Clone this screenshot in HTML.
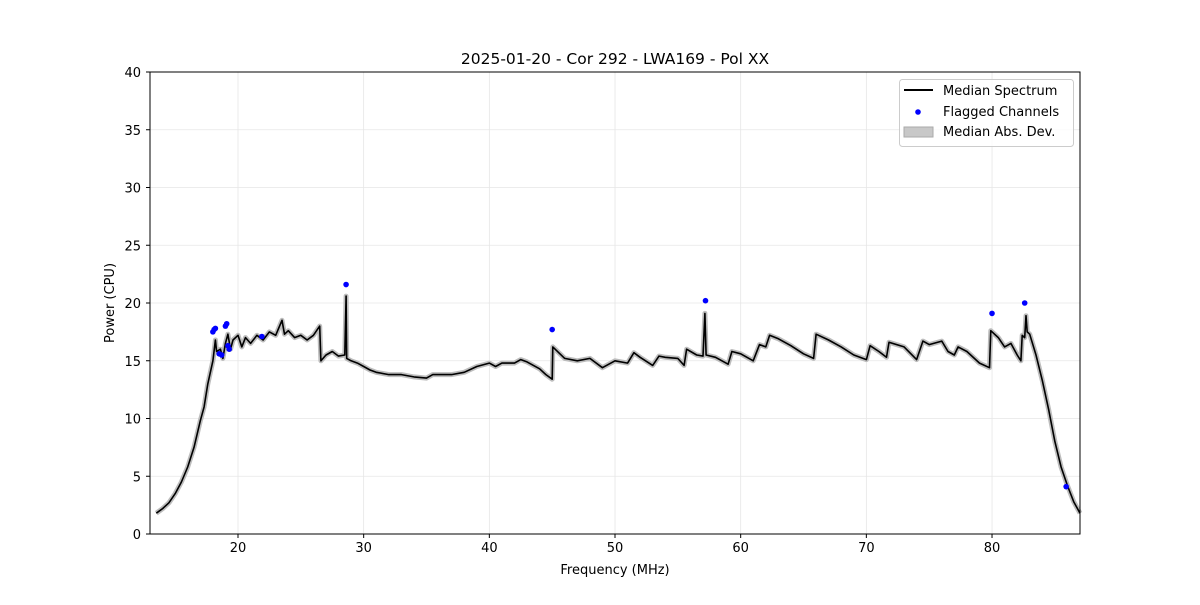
<!DOCTYPE html>
<html><head><meta charset="utf-8"><style>
body{margin:0;background:#fff;}
svg text{font-family:"DejaVu Sans","Liberation Sans",sans-serif;}
</style></head><body>
<svg id="s" width="1200" height="600" xmlns="http://www.w3.org/2000/svg"></svg>
<script>
const X=f=>238+(f-20)*12.567, Y=v=>534-v*11.55;
let h='';
for(let f=20;f<=80;f+=10){h+=`<line x1="${X(f)}" y1="72" x2="${X(f)}" y2="534" stroke="#e6e6e6" stroke-width="0.8"/>`;}
for(let v=5;v<=35;v+=5){h+=`<line x1="150" y1="${Y(v)}" x2="1080" y2="${Y(v)}" stroke="#e6e6e6" stroke-width="0.8"/>`;}
const d=[[13.5,1.8],[14,2.2],[14.5,2.7],[15,3.5],[15.5,4.5],[16,5.8],[16.5,7.5],[17,9.8],[17.3,11],[17.6,13],[18,15],[18.2,16.8],[18.3,15.8],[18.6,16],[18.8,15.2],[19,16.5],[19.2,17.3],[19.4,16],[19.6,16.8],[20,17.2],[20.3,16.2],[20.6,17],[21,16.5],[21.5,17.2],[22,16.8],[22.5,17.5],[23,17.2],[23.5,18.5],[23.7,17.3],[24,17.6],[24.5,17],[25,17.2],[25.5,16.8],[26,17.2],[26.5,18],[26.6,15],[27,15.5],[27.5,15.8],[28,15.4],[28.5,15.5],[28.6,20.6],[28.65,15.2],[29,15],[29.5,14.8],[30,14.5],[30.5,14.2],[31,14],[32,13.8],[33,13.8],[34,13.6],[35,13.5],[35.5,13.8],[36,13.8],[37,13.8],[38,14],[39,14.5],[40,14.8],[40.5,14.5],[41,14.8],[42,14.8],[42.5,15.1],[43,14.9],[44,14.3],[44.5,13.8],[45,13.4],[45.05,16.2],[46,15.2],[47,15],[48,15.2],[49,14.4],[50,15],[51,14.8],[51.5,15.7],[52,15.3],[53,14.6],[53.5,15.4],[54,15.3],[55,15.2],[55.5,14.6],[55.7,16],[56.5,15.5],[57,15.4],[57.15,19.1],[57.25,15.5],[58,15.3],[59,14.7],[59.3,15.8],[60,15.6],[61,15],[61.5,16.4],[62,16.2],[62.3,17.2],[63,16.9],[64,16.3],[65,15.6],[65.8,15.2],[66,17.3],[67,16.8],[68,16.2],[69,15.5],[70,15.1],[70.3,16.3],[71,15.8],[71.6,15.3],[71.8,16.6],[73,16.2],[74,15.1],[74.5,16.7],[75,16.4],[76,16.7],[76.5,15.8],[77,15.5],[77.3,16.2],[78,15.8],[79,14.8],[79.8,14.4],[79.9,17.6],[80.5,17],[81,16.2],[81.5,16.5],[82,15.5],[82.3,15],[82.4,17.2],[82.6,17],[82.7,18.9],[82.8,17.5],[83,17.3],[83.5,15.5],[84,13.3],[84.5,10.8],[85,8],[85.5,5.8],[86,4.2],[86.5,2.8],[87,1.8]];
const pts=d.map(p=>X(p[0]).toFixed(1)+','+Y(p[1]).toFixed(1)).join(' ');
h+=`<polyline points="${pts}" fill="none" stroke="#bdbdbd" stroke-width="5" stroke-linejoin="round"/>`;
h+=`<polyline points="${pts}" fill="none" stroke="#000" stroke-width="1.6" stroke-linejoin="round"/>`;
const fl=[[18,17.5],[18.1,17.7],[18.2,17.8],[18.5,15.6],[18.7,15.5],[19,18],[19.1,18.2],[19.2,16.3],[19.3,16],[21.9,17.1],[28.6,21.6],[45,17.7],[57.2,20.2],[80,19.1],[82.6,20],[85.9,4.1]];
fl.forEach(p=>h+=`<circle cx="${X(p[0])}" cy="${Y(p[1])}" r="2.8" fill="#0000ff"/>`);
h+=`<rect x="150" y="72" width="930" height="462" fill="none" stroke="#000" stroke-width="1"/>`;
for(let f=20;f<=80;f+=10){h+=`<line x1="${X(f)}" y1="534" x2="${X(f)}" y2="538" stroke="#000"/><text x="${X(f)}" y="552" font-size="13" text-anchor="middle">${f}</text>`;}
for(let v=0;v<=40;v+=5){h+=`<line x1="146" y1="${Y(v)}" x2="150" y2="${Y(v)}" stroke="#000"/><text x="141" y="${Y(v)+5}" font-size="13" text-anchor="end">${v}</text>`;}
h+=`<text x="615" y="64" font-size="15.5" text-anchor="middle">2025-01-20 - Cor 292 - LWA169 - Pol XX</text>`;
h+=`<text x="615" y="574" font-size="13" text-anchor="middle">Frequency (MHz)</text>`;
h+=`<text transform="translate(114,303) rotate(-90)" font-size="13" text-anchor="middle">Power (CPU)</text>`;
h+=`<rect x="899.5" y="79.5" width="174" height="67" rx="3" fill="#fff" fill-opacity="0.8" stroke="#ccc"/>`;
h+=`<line x1="904" y1="90" x2="933" y2="90" stroke="#000" stroke-width="2"/><text x="943" y="95" font-size="13">Median Spectrum</text>`;
h+=`<circle cx="918" cy="112" r="2.8" fill="#0000ff"/><text x="943" y="116" font-size="13">Flagged Channels</text>`;
h+=`<rect x="904" y="127" width="29" height="10" fill="#c8c8c8" stroke="#aaa"/><text x="943" y="136" font-size="13">Median Abs. Dev.</text>`;
document.getElementById('s').innerHTML=h;
</script>
</body></html>
